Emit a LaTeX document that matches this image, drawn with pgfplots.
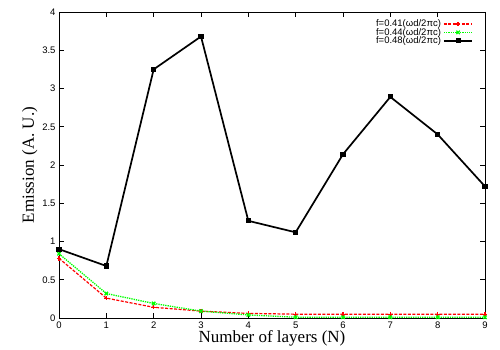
\documentclass[border=0pt]{standalone}
\usepackage{fontspec}
\setmainfont{Liberation Serif}
\newfontfamily\ticksans{Liberation Sans}
\usepackage{pgfplots}
\pgfplotsset{compat=1.18}
\begin{document}
\begin{tikzpicture}
\begin{axis}[
  scale only axis,
  width=426pt, height=306pt,
  xmin=0, xmax=9, ymin=0, ymax=4,
  xtick={0,...,9},
  ytick={0,0.5,...,4},
  tick align=inside,
  major tick length=5pt,
  tick style={black, line width=0.5pt},
  axis line style={line width=0.8pt},
  /pgf/number format/assume math mode=true,
  tick label style={font=\fontsize{9.5}{10}\selectfont\ticksans},
  yticklabel style={/pgf/number format/fixed},
  xlabel={Number of layers (N)},
  ylabel={Emission (A. U.)},
  label style={font=\fontsize{17}{19}\selectfont},
  xlabel style={yshift=5pt},
  ylabel style={yshift=-2pt},
  legend style={draw=none, fill=none, at={(0.975,0.985)}, anchor=north east,
    font=\fontsize{9.5}{9.5}\selectfont\ticksans, row sep=-4pt, inner sep=1pt},
  legend cell align=right,
  legend plot pos=right,
  legend image code/.code={
    \draw[mark repeat=2, mark phase=2]
      plot coordinates {(0cm,0cm) (0.5cm,0cm) (1cm,0cm)};},
]
\addplot[gray, line width=0.8pt, forget plot] coordinates {(0,0) (9,0)};
\addplot[red, dash pattern=on 3pt off 1.5pt, line width=1.2pt, mark=+, mark size=2.2pt, mark options={solid}]
  coordinates {(0,0.78) (1,0.26) (2,0.14) (3,0.09) (4,0.06) (5,0.05) (6,0.05) (7,0.05) (8,0.05) (9,0.05)};
\addlegendentry{f=0.41(ωd/2πc)}
\addplot[green, densely dotted, line width=1.3pt, mark=x, mark size=2.4pt, mark options={solid}]
  coordinates {(0,0.84) (1,0.32) (2,0.19) (3,0.09) (4,0.04) (5,0.01) (6,0.01) (7,0.01) (8,0.01) (9,0.01)};
\addlegendentry{f=0.44(ωd/2πc)}
\addplot[black, line width=1.7pt, mark=square*, mark size=1.7pt, mark options={solid}]
  coordinates {(0,0.90) (1,0.68) (2,3.25) (3,3.68) (4,1.27) (5,1.12) (6,2.14) (7,2.89) (8,2.40) (9,1.72)};
\addlegendentry{f=0.48(ωd/2πc)}
\end{axis}
\path (current axis.south west) ++(-59pt,-32pt);
\path (current axis.north east) ++(15pt,12pt);
\end{tikzpicture}
\end{document}
